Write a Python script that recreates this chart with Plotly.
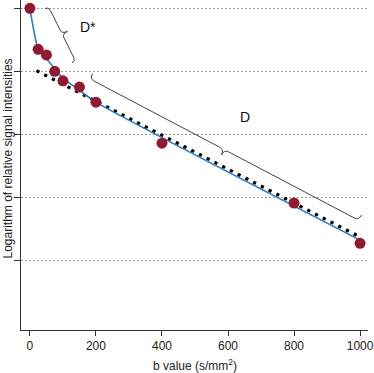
import numpy as np
import plotly.graph_objects as go

# ---- data ----
b_meas = [0, 25, 50, 75, 100, 150, 200, 400, 800, 1000]
log_meas = [0.0, -0.65, -0.74, -1.00, -1.15, -1.25, -1.49, -2.14, -3.09, -3.73]

b_fit = [0, 25, 50, 75, 100, 150, 200, 1000]
log_fit = [0.0, -0.64, -0.80, -0.96, -1.11, -1.30, -1.49, -3.68]

b_D = [20, 1000]
log_D = [-0.99, -3.63]

y_tickvals = [0, -1, -2, -3, -4]
x_tickvals = [0, 200, 400, 600, 800, 1000]

# ---- layout geometry ----
W, H = 374, 373
ML, MR, MT, MB = 21, 6, 0, 43
XR = [-27, 1024]
YR = [-5.106, 0.132]
pw, ph = W - ML - MR, H - MT - MB


def px2d(px, py):
    x = XR[0] + (px - ML) / pw * (XR[1] - XR[0])
    y = YR[1] - (py - MT) / ph * (YR[1] - YR[0])
    return x, y


def brace_path(p0, p1, w, t, r, sign):
    p0 = np.array(p0, float)
    p1 = np.array(p1, float)
    d = p1 - p0
    L = np.hypot(*d)
    u = d / L
    n = np.array([-u[1], u[0]]) * sign
    M = (p0 + p1) / 2
    pts = [
        ("M", [p0]),
        ("Q", [p0 + n * w, p0 + n * w + u * r]),
        ("L", [M + n * w - u * r]),
        ("Q", [M + n * w, M + n * (w + t)]),
        ("Q", [M + n * w, M + n * w + u * r]),
        ("L", [p1 + n * w - u * r]),
        ("Q", [p1 + n * w, p1]),
    ]
    s = ""
    for cmd, ps in pts:
        coords = []
        for p in ps:
            x, y = px2d(p[0], p[1])
            coords.append(f"{x:.3f},{y:.4f}")
        s += cmd + " " + " ".join(coords) + " "
    return s.strip()


FONT = "Liberation Sans, Arial, Helvetica, sans-serif"

fig = go.Figure()

fig.add_trace(go.Scatter(
    x=b_D, y=log_D, mode="lines",
    line=dict(color="black", width=3.2, dash="3.2px,5.5px"),
    hoverinfo="skip", showlegend=False))

fig.add_trace(go.Scatter(
    x=b_fit, y=log_fit, mode="lines",
    line=dict(color="#2f7cc0", width=1.6, shape="spline", smoothing=0.6),
    showlegend=False))

fig.add_trace(go.Scatter(
    x=b_meas, y=log_meas, mode="markers",
    marker=dict(color="#8e1b31", size=11, line=dict(width=0)),
    showlegend=False))

shapes = [
    dict(type="path", xref="x", yref="y",
         path=brace_path((45, 8.5), (72, 63), 4, 6, 4, -1),
         line=dict(color="#444", width=1)),
    dict(type="path", xref="x", yref="y",
         path=brace_path((92.5, 73.5), (361.5, 215), 6, 6, 5, 1),
         line=dict(color="#444", width=1)),
]

dsx, dsy = px2d(88, 27)
dx, dy = px2d(245, 117)

annotations = [
    dict(x=dsx, y=dsy, xref="x", yref="y", text="D*", showarrow=False,
         font=dict(size=14, color="#111", family=FONT)),
    dict(x=dx, y=dy, xref="x", yref="y", text="D", showarrow=False,
         font=dict(size=14, color="#111", family=FONT)),
    dict(x=0.5, y=-(365 - (H - MB)) / ph, xref="paper", yref="paper",
         text="b value (s/mm<sup>2</sup>)", showarrow=False,
         xanchor="center", yanchor="middle",
         font=dict(size=12, color="#222", family=FONT)),
    dict(x=(7.5 - ML) / pw, y=((H - MB) - 159) / ph, xref="paper", yref="paper",
         text="Logarithm of relative signal intensities", showarrow=False,
         textangle=-90, xanchor="center", yanchor="middle",
         font=dict(size=12, color="#222", family=FONT)),
]

fig.update_layout(
    width=W, height=H,
    margin=dict(l=ML, r=MR, t=MT, b=MB, pad=0),
    paper_bgcolor="white", plot_bgcolor="white",
    font=dict(family=FONT, size=12, color="#222"),
    shapes=shapes, annotations=annotations,
    xaxis=dict(range=XR, tickvals=x_tickvals, showgrid=False, zeroline=False,
               showline=True, linecolor="#333", linewidth=1,
               ticks="outside", ticklen=5, tickcolor="#333",
               tickfont=dict(size=12, color="#222")),
    yaxis=dict(range=YR, tickvals=y_tickvals, showticklabels=False,
               showgrid=True, gridcolor="#9a9a9a", gridwidth=1, griddash="2px,2px",
               zeroline=False, showline=True, linecolor="#333", linewidth=1,
               ticks="outside", ticklen=6, tickcolor="#333"),
)

fig.write_html("out.html", config={"displayModeBar": False})

# remove the default page margin so the figure sits at the window's top-left
with open("out.html", "r", encoding="utf-8") as f:
    html = f.read()
html = html.replace("<head>", "<head><style>html,body{margin:0;padding:0;overflow:hidden;}</style>", 1)
with open("out.html", "w", encoding="utf-8") as f:
    f.write(html)
